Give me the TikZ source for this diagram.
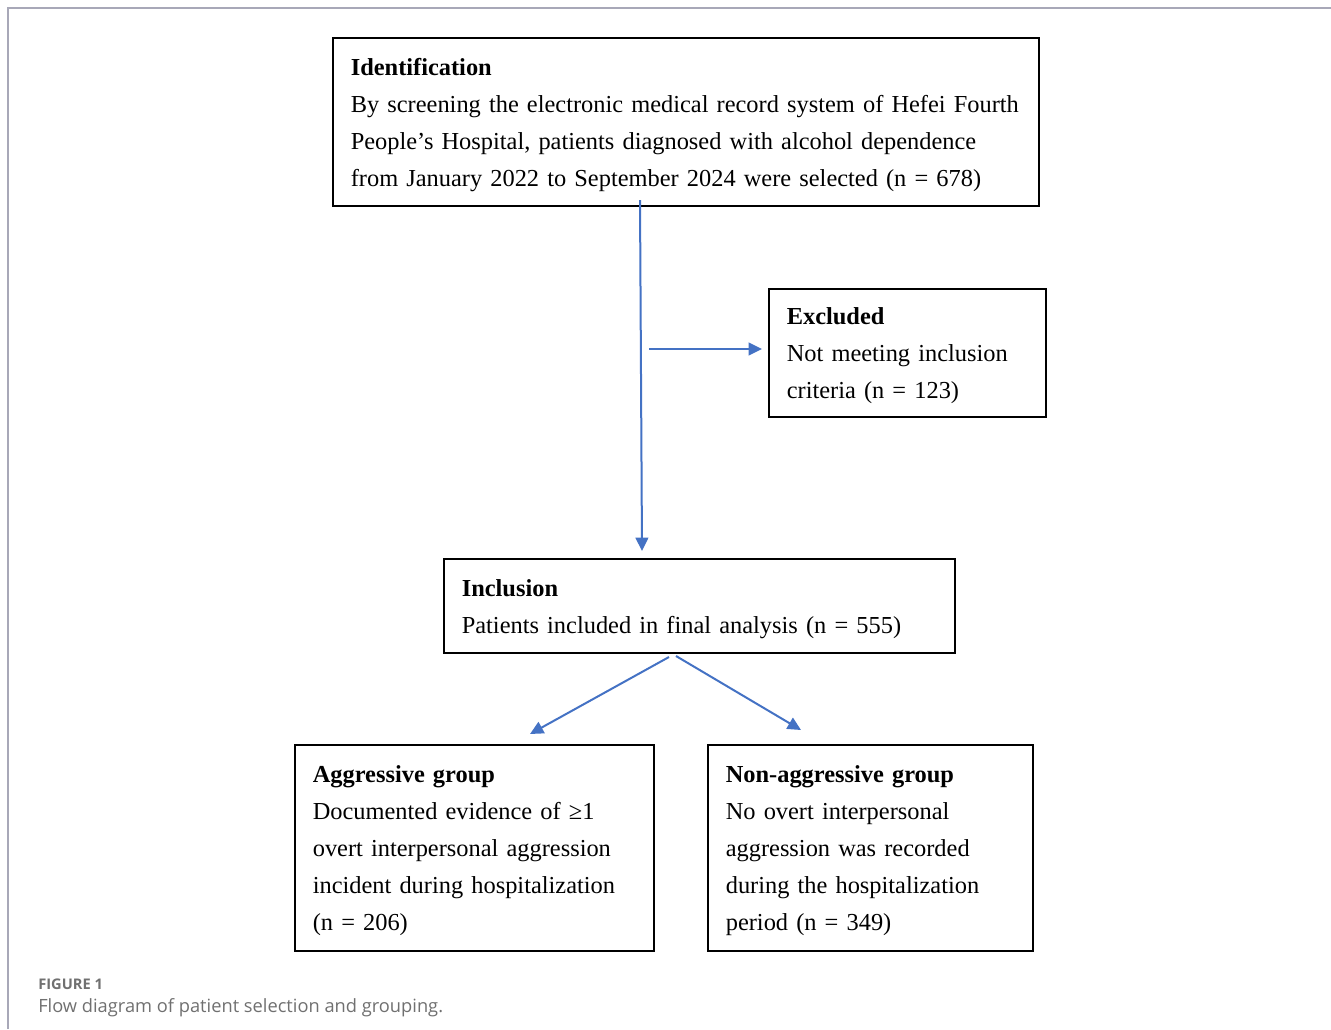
\documentclass[tikz,border=0pt]{standalone}
\usepackage{fontspec}
\setmainfont{Liberation Serif}
\newfontfamily\capfont{Open Sans}
\usepackage{tikz}
\usetikzlibrary{arrows.meta,positioning}
\definecolor{flowblue}{HTML}{4472C4}
\definecolor{capgray}{HTML}{707070}
\definecolor{framegray}{HTML}{A8A8B8}

\begin{document}
\begin{tikzpicture}[
    x=0.75pt, y=-0.75pt,
    >={Triangle[length=10pt,width=9.5pt]},
    font=\fontsize{18.3}{27.75}\selectfont,
    stage/.style={
		rectangle,
		draw=black,
		line width=1.2pt,
		anchor=north west,
		align=left,
		inner xsep=13.5pt,
		inner ysep=0pt,
		execute at begin node=\rule{0pt}{17pt},
		fill=white
	},
	link/.style={
		->,
		draw=flowblue,
		fill=flowblue,
		line width=1.5pt
	},
	caption/.style={
		anchor=base west,
		inner sep=0pt,
		text=capgray
	}
  ]
  \useasboundingbox (0,0) rectangle (1331,1029);
  % frame of the figure
  \draw [framegray, line width=1pt] (8,1029) -- (8,8) -- (1331,8);

  % the blocks
  \node [stage, minimum width=529.5pt, minimum height=126pt, text width=502.5pt] (ident) at (332,37)
 {%
  \textbf{Identification}\\
  By screening the electronic medical record system of Hefei Fourth\\
  People's Hospital, patients diagnosed with alcohol dependence\\
  from January 2022 to September 2024 were selected (n = 678)
 };

  \node [stage, minimum width=207.75pt, minimum height=96pt, text width=180.75pt] (excl) at (768,288)
 {%
  \textbf{Excluded}\\
  Not meeting inclusion\\
  criteria (n = 123)
 };

  \node [stage, minimum width=383.25pt, minimum height=70.5pt, text width=356.25pt] (incl) at (443,558)
 {%
  \textbf{Inclusion}\\
  Patients included in final analysis (n = 555)
 };

  \node [stage, minimum width=269.25pt, minimum height=154.5pt, text width=242.25pt] (aggr) at (294,744)
 {%
  \textbf{Aggressive group}\\
  Documented evidence of ≥1\\
  overt interpersonal aggression\\
  incident during hospitalization\\
  (n = 206)
 };

  \node [stage, minimum width=243.75pt, minimum height=154.5pt, text width=216.75pt] (nonaggr) at (707,744)
 {%
  \textbf{Non-aggressive group}\\
  No overt interpersonal\\
  aggression was recorded\\
  during the hospitalization\\
  period (n = 349)
 };

  % arrow end points
  \coordinate (identout) at (640,200);
  \coordinate (inclin) at (642,551);
  \coordinate (exclfrom) at (649,349);
  \coordinate (exclin) at (762,349);
  \coordinate (aggrfrom) at (669,657);
  \coordinate (aggrin) at (530,734);
  \coordinate (nonfrom) at (676,656);
  \coordinate (nonin) at (801,730);

  \draw [link] (identout) -- (inclin);
  \draw [link] (exclfrom) -- (exclin);
  \draw [link] (aggrfrom) -- (aggrin);
  \draw [link] (nonfrom) -- (nonin);

  % caption
  \node [caption, font=\capfont\bfseries\fontsize{11}{13}\selectfont] (figlabel) at (38,989) {FIGURE 1};
  \node [caption, font=\capfont\fontsize{13.7}{16}\selectfont] (figtitle) at (38,1012) {Flow diagram of patient selection and grouping.};
\end{tikzpicture}
\end{document}
